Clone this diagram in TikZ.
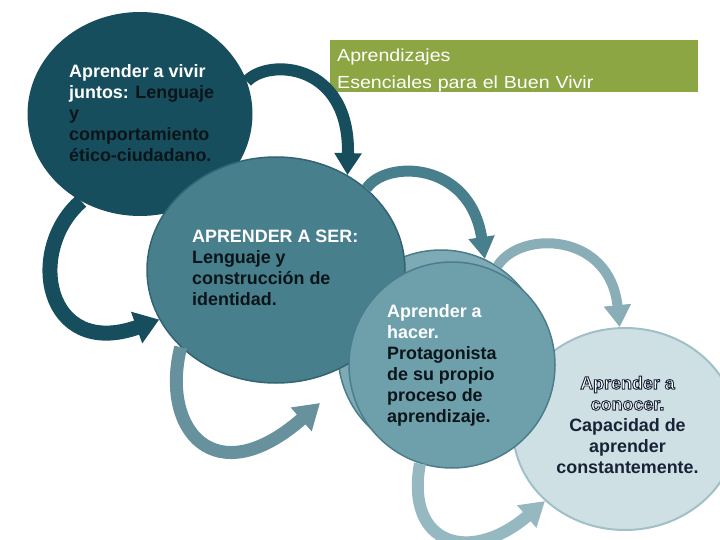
\documentclass[tikz,border=0pt]{standalone}
\usepackage{fontspec}
\setmainfont{Liberation Sans}
\newfontfamily\titlefont[FakeStretch=1.12]{Liberation Sans}
\usetikzlibrary{arrows.meta,shapes.geometric}
\definecolor{cA}{RGB}{23,78,94}
\definecolor{cB}{RGB}{72,127,140}
\definecolor{cBd}{RGB}{50,100,115}
\definecolor{cBarrow}{RGB}{103,145,157}
\definecolor{cC}{RGB}{110,160,172}
\definecolor{cCg}{RGB}{125,170,180}
\definecolor{cCd}{RGB}{75,125,140}
\definecolor{cCarrow}{RGB}{138,174,183}
\definecolor{cCarrowb}{RGB}{150,185,193}
\definecolor{cD}{RGB}{207,224,228}
\definecolor{cDd}{RGB}{160,192,200}
\definecolor{ttlgreen}{RGB}{139,166,66}
\definecolor{txtdark}{RGB}{10,20,25}
\definecolor{navytxt}{RGB}{25,35,55}
\newcommand\olw[1]{\textcolor{white}{\special{pdf:literal direct 2 Tr 0.9 w 0.1 0.14 0.22 RG}#1\special{pdf:literal direct 0 Tr}}}
\tikzset{
  blob/.style={ellipse, inner sep=0pt},
  txt/.style={font=\fontsize{17.9}{21}\selectfont\bfseries, inner sep=0pt, align=left, anchor=north west, text=txtdark},
}
\begin{document}
\begin{tikzpicture}[x=1pt,y=-1pt]
\useasboundingbox (0,0) rectangle (720,540);
% circles
\node[blob, fill=cD, draw=cDd, line width=2pt, minimum width=224, minimum height=202] (c4) at (625,429) {};
\node[blob, fill=cA, minimum width=225, minimum height=204] (c1) at (140,114) {};
\node[blob, fill=cCg, draw=cCd, line width=1.5pt, minimum width=206, minimum height=206] (c3g) at (441,353) {};
\node[blob, fill=cB, draw=cBd, line width=1.5pt, minimum width=258, minimum height=226] (c2) at (276,270) {};
\node[blob, fill=cC, draw=cCd, line width=1.5pt, minimum width=206, minimum height=206] (c3) at (452,365) {};
% title
\node[fill=ttlgreen, text=white, anchor=north west, inner xsep=7pt, inner ysep=0pt, text width=354, minimum height=52, align=left, font=\titlefont\fontsize{17.5}{27}\selectfont] (title) at (330,40) {\rule{0pt}{21pt}Aprendizajes\\Esenciales para el Buen Vivir};
% arrows
\coordinate (a2bend) at (320,403);
\draw[cA, line width=12pt, -{Triangle[width=26pt,length=22pt]}] (c1.17) .. controls (268,58) and (350,62) .. (c2.53);
\draw[cA, line width=15pt, -{Triangle[width=32pt,length=24pt]}] (c1.236) .. controls (25,250) and (45,360) .. (c2.203);
\draw[cB, line width=11pt, -{Triangle[width=25pt,length=22pt]}] (c2.42) .. controls (385,160) and (470,160) .. (c3g.65);
\draw[cBarrow, line width=13pt, -{Triangle[width=30pt,length=25pt]}] (c2.219) .. controls (160,430) and (215,495) .. (a2bend);
\draw[cCarrow, line width=10pt, -{Triangle[width=26pt,length=22pt]}] (c3g.57) .. controls (520,230) and (610,232) .. (c4.93);
\draw[cCarrowb, line width=12pt, -{Triangle[width=28pt,length=24pt]}] (c3.252) .. controls (405,545) and (470,565) .. (c4.222);
% texts
\node[txt] (t1) at (69,64) {\textcolor{white}{Aprender a vivir}\\\textcolor{white}{juntos:} Lenguaje\\y\\comportamiento\\ético-ciudadano.};
\node[txt] (t2) at (192,230) {\textcolor{white}{APRENDER A SER:}\\Lenguaje y\\construcción de\\identidad.};
\node[txt] (t3) at (387,304) {\textcolor{white}{Aprender a}\\\textcolor{white}{hacer.}\\Protagonista\\de su propio\\proceso de\\aprendizaje.};
\node[txt, anchor=north, align=center, text=navytxt] (t4) at (627.5,376) {\olw{Aprender a}\\\olw{conocer.}\\Capacidad de\\aprender\\constantemente.};
\end{tikzpicture}
\end{document}
